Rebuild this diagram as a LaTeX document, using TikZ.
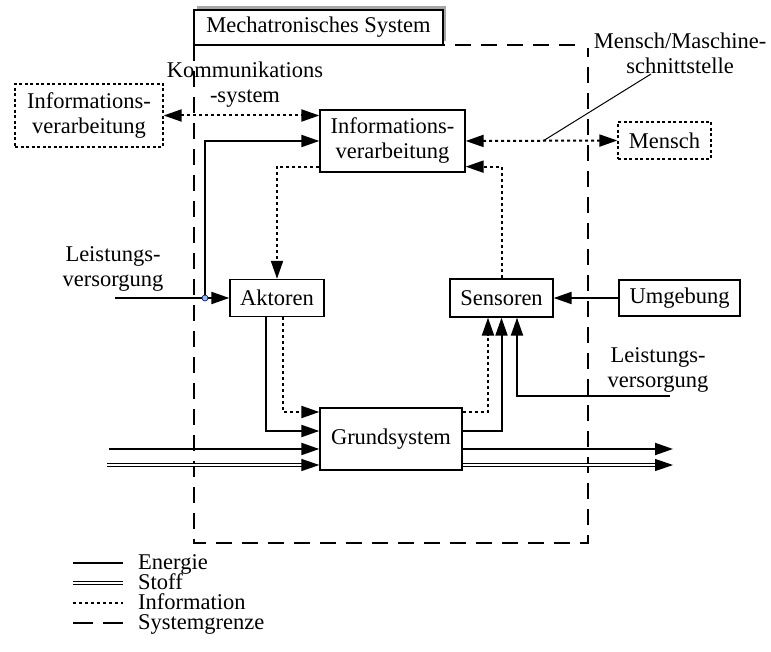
\documentclass[tikz,border=0pt]{standalone}
\usepackage{fontspec}
\setmainfont{Liberation Serif}
\usetikzlibrary{arrows.meta,shadows}
\definecolor{dotblue}{RGB}{140,190,240}
\begin{document}
\begin{tikzpicture}[x=1pt,y=-1pt,
  txt/.style={font=\fontsize{22.5}{25}\selectfont},
  blk/.style={draw, line width=1.3pt, inner sep=0pt, align=center, fill=white, txt},
  dblk/.style={blk, dash pattern=on 3pt off 2.5pt},
  tip/.style={-{Triangle[length=18pt,width=12pt]}},
  tips/.style={{Triangle[length=18pt,width=12pt]}-{Triangle[length=18pt,width=12pt]}},
  energy/.style={line width=2pt},
  info/.style={line width=2pt, dash pattern=on 3pt off 3pt},
  stoff/.style={double, line width=1.2pt, double distance=2.2pt},
  grenze/.style={line width=2pt, dash pattern=on 16pt off 10pt},
  lbl/.style={txt, align=center, inner sep=0pt},
  lgd/.style={txt, inner sep=0pt, anchor=base west, text height=11pt, text depth=2pt},
]
\useasboundingbox (0,0) rectangle (771,652);

% system boundary
\draw[grenze] (194,45) -- (194,543) -- (588,543) -- (588,48);
\draw[grenze] (575,45) -- (443,45);

% blocks
\node[blk, minimum width=249pt, minimum height=35pt,
      drop shadow={shadow xshift=3pt, shadow yshift=4pt, fill=gray!70, opacity=1}]
      (mst) at (318.5,27.5) {Mechatronisches System};
\node[blk, minimum width=145pt, minimum height=62pt] (ivi) at (392.5,141) {Informations-\\verarbeitung};
\node[dblk, minimum width=148pt, minimum height=63pt] (ive) at (89,115.5) {Informations-\\verarbeitung};
\node[dblk, minimum width=93pt, minimum height=37pt] (men) at (664.5,140.5) {Mensch};
\node[blk, minimum width=94pt, minimum height=37pt] (akt) at (277,298) {Aktoren};
\node[blk, minimum width=103pt, minimum height=38pt] (sen) at (501.5,298) {Sensoren};
\node[blk, minimum width=121pt, minimum height=36pt] (umg) at (679.5,298) {Umgebung};
\node[blk, minimum width=142pt, minimum height=62pt] (grd) at (391,439) {Grundsystem};

% free ends
\coordinate (lvL) at (115,298);
\coordinate (lvR) at (670,396);
\coordinate (inE) at (109,449);
\coordinate (inS) at (107,465);
\coordinate (outE) at (673,449);
\coordinate (outS) at (673,465);
\coordinate (mmA) at (543,141);
\coordinate (mmB) at (651,74);

% labels
\node[lbl] (kom) at (245,85) {Kommunikations\\-system};
\node[lbl] (lvLt) at (113,269) {Leistungs-\\versorgung};
\node[lbl] (lvRt) at (658,370) {Leistungs-\\versorgung};
\node[lbl] (mmi) at (680,53) {Mensch/Maschine-\\schnittstelle};

% information flows
\draw[info,tips] (ive.east) -- (ivi.west |- ive.east);
\draw[info,tips] (ivi.east) -- (men.west);
\draw[info,tip] ([yshift=6pt]ivi.south west) -| (akt.north);
\draw[info,tip] (sen.north) |- ([yshift=6pt]ivi.south east);
\draw[info,tip] ([xshift=6pt]akt.south) |- ([yshift=27pt]grd.west);
\draw[info,tip] ([yshift=27pt]grd.east) -| ([xshift=-13.5pt]sen.south);

% energy flows
\draw[energy,tip] (lvL) -- (akt.west);
\draw[energy,tip] (205,298) |- (ivi.west);
\draw[energy,tip] ([xshift=-11pt]akt.south) |- ([yshift=8pt]grd.west);
\draw[energy,tip] ([yshift=8pt]grd.east) -| (sen.south);
\draw[energy,tip] (lvR) -| ([xshift=15.5pt]sen.south);
\draw[energy,tip] (umg.west) -- (sen.east);
\draw[energy,tip] (inE) -- ([yshift=-10pt]grd.west);
\draw[energy,tip] ([yshift=-10pt]grd.east) -- (outE);

% material flows
\draw[stoff,tip] (inS) -- ([yshift=-26pt]grd.west);
\draw[stoff,tip] ([yshift=-26pt]grd.east) -- (outS);

% interface leader
\draw[line width=1pt] (mmA) -- (mmB);

% junction
\node[circle, draw=blue!40!black, fill=dotblue, line width=0.6pt, inner sep=0pt, minimum size=6pt] (jn) at (205,298) {};

% legend
\draw[energy] (73,563) -- (123,563);
\draw[stoff] (73,583) -- (123,583);
\draw[info] (73,603) -- (123,603);
\draw[line width=2pt] (73,623) -- (93,623) (103,623) -- (123,623);
\node[lgd] (lg1) at (138,569.5) {Energie};
\node[lgd] (lg2) at (138,589.5) {Stoff};
\node[lgd] (lg3) at (138,609.5) {Information};
\node[lgd] (lg4) at (138,629.5) {Systemgrenze};
\end{tikzpicture}
\end{document}
